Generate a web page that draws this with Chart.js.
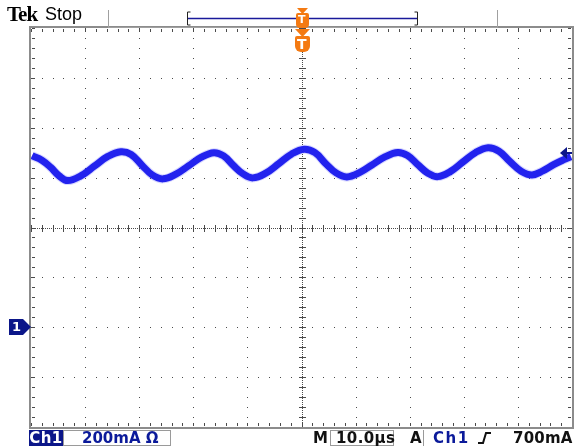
<!DOCTYPE html>
<html>
<head>
<meta charset="utf-8">
<script src="https://cdn.jsdelivr.net/npm/chart.js@4.4.1/dist/chart.umd.min.js"></script>
<style>
  body { margin: 0; background: #fff; }
  #scope { position: relative; width: 579px; height: 446px; overflow: hidden; font-family: "DejaVu Sans", sans-serif; }
  #scope canvas { position: absolute; left: 0; top: 0; }
  .lbl { position: absolute; white-space: nowrap; line-height: 16px; font-size: 15px; font-weight: bold; }
  .box { position: absolute; box-sizing: border-box; border: 1px solid #9a9a9a; height: 16px; }
</style>
</head>
<body>
<div id="scope">
  <canvas id="trace" width="579" height="446"></canvas>

  <div class="lbl" style="left:7px;top:3px;font:bold 21px 'Liberation Serif';letter-spacing:-1px;line-height:22px;">Tek</div>
  <div class="lbl" style="left:45px;top:4px;font:18px 'Liberation Sans';line-height:20px;">Stop</div>

  <div class="lbl" style="left:29px;top:430px;width:34px;height:16px;background:#0b1689;color:#fff;text-align:center;letter-spacing:0.5px;">Ch1</div>
  <div class="box" style="left:63px;top:430px;width:108px;"></div>
  <div class="lbl" style="left:82px;top:430px;color:#0b1a9a;">200mA Ω</div>

  <div class="lbl" style="left:313px;top:430px;color:#111;">M</div>
  <div class="box" style="left:330px;top:430px;width:64px;"></div>
  <div class="lbl" style="left:336px;top:430px;color:#111;letter-spacing:0.4px;">10.0µs</div>
  <div class="lbl" style="left:410px;top:430px;color:#111;">A</div>
  <div style="position:absolute;left:423px;top:430px;width:1px;height:16px;background:#9a9a9a;"></div>
  <div class="lbl" style="left:433px;top:430px;color:#0b1a9a;letter-spacing:1.5px;">Ch1</div>
  <div class="lbl" style="left:513px;top:430px;color:#111;letter-spacing:0.2px;">700mA</div>

  <div class="lbl" id="gndLbl" style="color:#fff;font-size:13px;">1</div>
  <div class="lbl" id="trigT" style="color:#fff;font-size:14px;">T</div>
  <div class="lbl" id="recT" style="color:#fff;font-size:11px;line-height:12px;">T</div>
</div>

<script>
// time axis in microseconds (10 us/div, trigger at centre), current in mA (200 mA/div)
const timeUs = [-49.8, -48.0, -46.4, -44.8, -43.2, -40.8, -38.3, -35.8, -33.4, -31.5, -29.5, -27.6, -25.6,
  -23.2, -20.9, -18.5, -16.2, -14.4, -12.6, -10.8, -9.0, -6.6, -4.2, -1.8, 0.5, 2.5, 4.4, 6.4, 8.4,
  10.8, 13.1, 15.5, 17.8, 19.6, 21.5, 23.3, 25.2, 27.5, 29.8, 32.2, 34.5, 36.5, 38.5, 40.6, 42.6,
  44.6, 46.6, 48.5, 49.8];
const currentMa = [688, 670, 642, 607, 588, 607, 646, 685, 704, 693, 650, 611, 595,
  614, 647, 682, 700, 687, 649, 615, 599, 618, 656, 695, 714, 700, 658, 619, 603,
  621, 652, 684, 701, 689, 652, 619, 604, 624, 662, 701, 720, 706, 665, 626, 611,
  627, 652, 672, 684];

const timeDivs = [-50, -40, -30, -20, -10, 0, 10, 20, 30, 40, 50];
const currentDivs = [-400, -200, 0, 200, 400, 600, 800, 1000, 1200];
const triggerLevel = 700;
const groundLevel = 0;

const points = timeUs.map((t, i) => ({ x: t, y: currentMa[i] }));

const graticule = {
  id: 'graticule',
  beforeDatasetsDraw(chart) {
    const { ctx, chartArea: a, scales: { x, y } } = chart;
    const tStep = 2, iStep = 40; // fifth of a division
    ctx.save();
    ctx.fillStyle = '#4a4a4a';
    // dotted division lines
    timeDivs.slice(1, -1).forEach(t => {
      if (t === 0) return;
      const px = Math.round(x.getPixelForValue(t));
      for (let v = currentDivs[0]; v <= 1200; v += iStep) {
        ctx.fillRect(px, Math.round(y.getPixelForValue(v)), 1, 1);
      }
    });
    currentDivs.slice(1, -1).forEach(v => {
      if (v === 400) return;
      const py = Math.round(y.getPixelForValue(v));
      for (let t = -50; t <= 50; t += tStep) {
        ctx.fillRect(Math.round(x.getPixelForValue(t)), py, 1, 1);
      }
    });
    // centre cross with minor ticks
    const cx = Math.round(x.getPixelForValue(0));
    const cy = Math.round(y.getPixelForValue(400));
    for (let px = a.left; px < a.right; px += 2) ctx.fillRect(px, cy, 1, 1);
    for (let py = a.top; py < a.bottom; py += 2) ctx.fillRect(cx, py, 1, 1);
    for (let t = -50; t <= 50; t += tStep) {
      const px = Math.round(x.getPixelForValue(t));
      ctx.fillRect(px, cy - 3, 1, 7);
      ctx.fillRect(px, a.top + 1, 1, 3);
      ctx.fillRect(px, a.bottom - 4, 1, 3);
    }
    for (let v = -400; v <= 1200; v += iStep) {
      const py = Math.round(y.getPixelForValue(v));
      ctx.fillRect(cx - 3, py, 7, 1);
      ctx.fillRect(a.left + 1, py, 3, 1);
      ctx.fillRect(a.right - 4, py, 3, 1);
    }
    // frame
    ctx.strokeStyle = '#8c8c8c';
    ctx.lineWidth = 2;
    ctx.strokeRect(a.left - 1, a.top - 1, a.right - a.left + 2, a.bottom - a.top + 2);
    ctx.restore();
  },
  afterDraw(chart) {
    const { ctx, chartArea: a, scales: { x, y } } = chart;
    const cx = Math.round(x.getPixelForValue(0));
    const gy = Math.round(y.getPixelForValue(groundLevel));
    const ty = Math.round(y.getPixelForValue(triggerLevel));
    ctx.save();
    // header separators and record bar
    ctx.fillStyle = '#a0a0a0';
    ctx.fillRect(108, 10, 1, 18);
    ctx.fillRect(497, 10, 1, 18);
    ctx.fillRect(108, 27, 390, 1);
    ctx.strokeStyle = '#1a1a9a';
    ctx.lineWidth = 1.5;
    ctx.beginPath(); ctx.moveTo(188, 18.5); ctx.lineTo(417, 18.5); ctx.stroke();
    ctx.strokeStyle = '#222';
    ctx.lineWidth = 1;
    ctx.beginPath();
    ctx.moveTo(190.5, 12); ctx.lineTo(187.5, 12); ctx.lineTo(187.5, 25); ctx.lineTo(190.5, 25);
    ctx.moveTo(414.5, 12); ctx.lineTo(417.5, 12); ctx.lineTo(417.5, 25); ctx.lineTo(414.5, 25);
    ctx.stroke();
    // trigger position markers
    ctx.fillStyle = '#f47a12';
    ctx.beginPath(); ctx.moveTo(cx - 5, 8); ctx.lineTo(cx + 6, 8); ctx.lineTo(cx + 0.5, 14); ctx.fill();
    ctx.beginPath(); ctx.roundRect(cx - 6, 13, 13, 15, [2, 2, 4, 4]); ctx.fill();
    ctx.beginPath(); ctx.moveTo(cx - 7, 29); ctx.lineTo(cx + 8, 29); ctx.lineTo(cx + 0.5, 37); ctx.fill();
    ctx.beginPath(); ctx.roundRect(cx - 7, 36, 15, 16, [2, 2, 6, 6]); ctx.fill();
    // ground marker
    ctx.fillStyle = '#0b1689';
    ctx.beginPath();
    ctx.moveTo(9, gy - 8); ctx.lineTo(23, gy - 8); ctx.lineTo(31, gy); ctx.lineTo(23, gy + 8); ctx.lineTo(9, gy + 8);
    ctx.closePath(); ctx.fill();
    // trigger level arrow
    ctx.beginPath(); ctx.moveTo(a.right - 12, ty); ctx.lineTo(a.right - 5, ty - 6); ctx.lineTo(a.right - 5, ty + 6); ctx.closePath(); ctx.fill();
    ctx.fillRect(a.right - 6, ty - 1, 6, 2);
    // rising edge symbol
    ctx.strokeStyle = '#111';
    ctx.lineWidth = 2;
    ctx.beginPath(); ctx.moveTo(478, 443); ctx.lineTo(483, 443); ctx.lineTo(486, 433); ctx.lineTo(491, 433); ctx.stroke();
    ctx.restore();
  }
};

const chart = new Chart(document.getElementById('trace'), {
  type: 'line',
  data: {
    datasets: [
      { data: points, borderColor: 'rgba(90,90,255,0.25)', borderWidth: 9, pointRadius: 0, tension: 0.4 },
      { data: points, borderColor: '#0f0fe8', borderWidth: 7, pointRadius: 0, tension: 0.4 }
    ]
  },
  options: {
    responsive: false,
    devicePixelRatio: 1,
    animation: false,
    layout: { padding: { left: 31, right: 7, top: 28, bottom: 19 } },
    plugins: { legend: { display: false }, tooltip: { enabled: false } },
    scales: {
      x: { type: 'linear', display: false, min: timeDivs[0], max: timeDivs[timeDivs.length - 1] },
      y: { type: 'linear', display: false, min: currentDivs[0], max: currentDivs[currentDivs.length - 1] }
    }
  },
  plugins: [graticule]
});

// place the marker letters on the library's scale positions
const cxPix = chart.scales.x.getPixelForValue(0);
const gyPix = chart.scales.y.getPixelForValue(groundLevel);
const gnd = document.getElementById('gndLbl');
gnd.style.left = '12px'; gnd.style.top = (gyPix - 8) + 'px';
const trigT = document.getElementById('trigT');
trigT.style.left = (cxPix - 4.5) + 'px'; trigT.style.top = '36px';
const recT = document.getElementById('recT');
recT.style.left = (cxPix - 3.5) + 'px'; recT.style.top = '14px';
</script>
</body>
</html>
